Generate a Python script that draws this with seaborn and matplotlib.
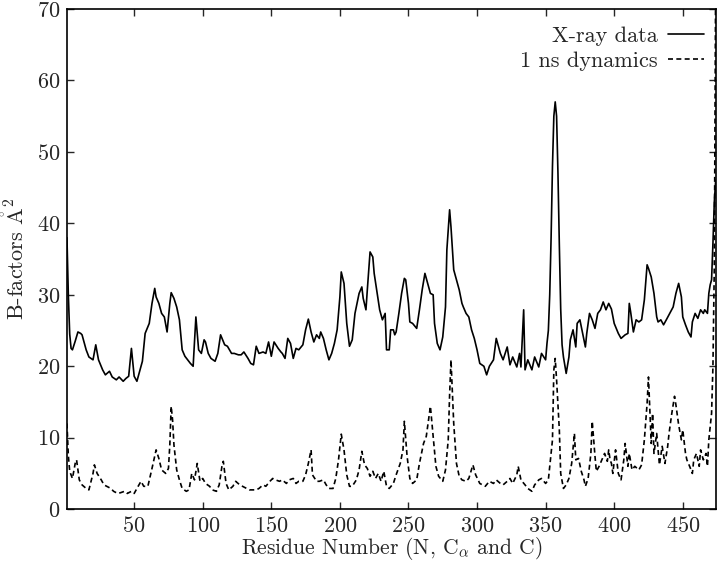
import matplotlib
matplotlib.use("Agg")
import matplotlib.pyplot as plt
import seaborn as sns
import pandas as pd

# X-ray B-factors (residue, value)
xray_res = [1, 2, 3, 4, 5, 7, 9, 11, 12, 15, 17, 20, 22, 24, 27, 29, 32, 34, 37, 39,
            42, 44, 46, 48, 50, 52, 54, 56, 58, 61, 63, 65, 66, 68, 70, 72, 74, 76, 77, 79,
            81, 83, 85, 87, 89, 91, 93, 95, 97, 99, 101, 102, 104, 106, 109, 111, 113, 116, 118, 121,
            123, 126, 128, 130, 133, 135, 137, 139, 141, 144, 146, 148, 150, 152, 155, 157, 158, 160, 162, 164,
            166, 168, 170, 173, 175, 177, 179, 181, 183, 185, 186, 188, 190, 192, 194, 196, 198, 200, 201, 203,
            205, 207, 209, 211, 214, 216, 217, 219, 220, 222, 224, 225, 227, 229, 231, 233, 234, 236, 237, 239,
            240, 241, 243, 245, 247, 248, 250, 251, 253, 256, 258, 260, 262, 264, 266, 268, 269, 271, 273, 275,
            277, 278, 280, 281, 283, 285, 287, 289, 290, 292, 294, 296, 298, 300, 302, 305, 307, 309, 312, 314,
            317, 319, 322, 324, 326, 329, 331, 332, 334, 335, 337, 340, 342, 345, 347, 350, 351, 352, 353, 354,
            355, 356, 357, 358, 359, 360, 361, 362, 363, 365, 367, 368, 370, 372, 373, 375, 377, 379, 380, 382,
            384, 386, 388, 390, 392, 394, 396, 398, 400, 403, 405, 408, 410, 411, 412, 414, 416, 418, 420, 422,
            424, 425, 427, 429, 431, 432, 434, 436, 438, 441, 443, 445, 447, 449, 450, 452, 454, 456, 457, 459,
            461, 463, 465, 466, 468, 469, 470, 471, 472, 473, 474]
xray_b = [38.0, 30.0, 24.5, 22.5, 22.3, 23.5, 24.8, 24.6, 24.4, 22.3, 21.3, 20.9, 23.0, 20.9, 19.5, 18.8, 19.3, 18.5, 18.1, 18.5,
          17.9, 18.3, 18.6, 22.5, 18.6, 17.9, 19.3, 20.7, 24.6, 26.0, 28.8, 30.9, 29.7, 28.8, 27.4, 26.9, 24.8, 28.8, 30.3, 29.5,
          28.3, 26.5, 22.3, 21.4, 20.9, 20.4, 20.0, 26.9, 22.3, 21.8, 23.7, 23.4, 21.8, 21.1, 20.7, 21.8, 24.4, 23.0, 22.8, 21.8,
          21.8, 21.6, 21.6, 22.0, 21.1, 20.4, 20.2, 22.8, 21.8, 22.0, 21.8, 23.4, 21.4, 23.4, 22.5, 22.0, 21.8, 21.1, 23.9, 23.2,
          21.1, 22.5, 22.3, 23.0, 25.1, 26.6, 24.8, 23.4, 24.4, 23.9, 24.8, 23.9, 22.3, 20.9, 21.8, 23.2, 25.1, 29.7, 33.2, 31.6,
          26.0, 22.8, 23.7, 27.4, 30.2, 31.1, 29.5, 27.9, 30.7, 36.0, 35.3, 33.0, 30.4, 27.9, 26.5, 27.4, 22.3, 22.3, 25.1, 25.1,
          24.4, 24.8, 27.4, 30.2, 32.3, 32.1, 28.8, 26.2, 26.0, 25.3, 27.9, 30.7, 33.0, 31.6, 30.2, 30.0, 26.0, 23.2, 22.3, 24.1,
          28.3, 36.3, 41.9, 39.5, 33.5, 32.1, 30.7, 28.8, 28.3, 27.4, 26.9, 25.1, 23.9, 22.3, 20.4, 20.0, 18.8, 20.0, 20.9, 23.9,
          21.8, 20.9, 22.7, 20.2, 21.3, 19.9, 21.8, 19.9, 27.9, 19.5, 20.9, 19.5, 21.3, 19.9, 21.8, 20.9, 23.2, 25.0, 30.0, 38.0,
          48.0, 55.0, 57.0, 55.0, 47.0, 37.0, 28.0, 23.0, 21.3, 19.0, 21.3, 23.7, 25.1, 22.7, 26.0, 26.5, 24.6, 22.7, 24.6, 27.4,
          26.5, 25.3, 27.4, 27.9, 29.0, 27.9, 28.8, 28.0, 26.0, 24.6, 23.9, 24.4, 24.6, 28.8, 27.6, 24.8, 26.5, 26.2, 26.5, 29.3,
          34.2, 33.7, 32.5, 30.2, 26.9, 26.2, 26.5, 25.8, 26.5, 27.6, 28.3, 30.2, 31.6, 29.7, 26.9, 25.8, 24.8, 24.1, 26.2, 27.4,
          26.7, 27.9, 27.4, 27.9, 27.4, 30.2, 31.4, 32.1, 37.2, 43.0, 46.0]

# 1 ns dynamics B-factors
md_res = [1, 2, 3, 5, 7, 8, 10, 12, 15, 17, 20, 21, 23, 26, 28, 30, 33, 35, 38, 40,
          43, 45, 48, 50, 52, 55, 57, 60, 63, 66, 68, 70, 73, 75, 76, 77, 78, 79, 81, 83,
          85, 88, 90, 92, 94, 96, 98, 100, 102, 105, 107, 110, 112, 114, 115, 117, 119, 122, 124, 127,
          129, 132, 134, 136, 139, 141, 144, 146, 149, 151, 153, 156, 158, 161, 163, 166, 168, 170, 173, 175,
          177, 179, 180, 183, 185, 188, 190, 192, 195, 197, 199, 201, 203, 205, 207, 209, 212, 214, 216, 218,
          220, 222, 224, 226, 228, 230, 232, 234, 236, 239, 241, 244, 246, 247, 249, 251, 253, 256, 258, 261,
          263, 265, 266, 268, 270, 272, 275, 277, 279, 280, 281, 283, 285, 287, 289, 292, 294, 297, 299, 302,
          304, 306, 309, 312, 314, 317, 319, 322, 324, 326, 329, 330, 332, 335, 337, 340, 342, 345, 347, 350,
          352, 353, 355, 356, 357, 358, 360, 361, 363, 365, 367, 369, 371, 372, 374, 376, 378, 379, 381, 383,
          384, 386, 387, 389, 391, 393, 395, 396, 397, 398, 399, 401, 403, 405, 407, 408, 410, 411, 413, 415,
          418, 420, 422, 424, 425, 426, 427, 428, 429, 431, 432, 433, 435, 437, 439, 440, 442, 444, 445, 447,
          449, 450, 452, 453, 455, 457, 458, 460, 462, 463, 465, 467, 468, 469, 471, 472, 473, 474]
md_b = [12.0, 7.5, 5.3, 4.3, 6.4, 6.9, 4.1, 3.4, 2.9, 2.7, 5.0, 6.2, 5.0, 4.1, 3.4, 3.2, 2.9, 2.5, 2.2, 2.3,
        2.5, 2.2, 2.5, 2.2, 2.9, 3.9, 3.2, 3.2, 5.7, 8.3, 7.1, 5.5, 5.0, 5.7, 9.0, 14.4, 12.5, 9.0, 5.5, 4.1,
        2.9, 2.5, 2.7, 5.0, 4.1, 6.4, 3.9, 4.3, 3.6, 3.2, 2.7, 2.5, 3.4, 6.0, 6.7, 3.6, 2.7, 3.2, 3.9, 3.4,
        3.2, 2.9, 2.7, 2.7, 2.7, 2.9, 3.4, 3.2, 3.9, 4.3, 4.1, 3.9, 4.1, 3.6, 4.1, 4.3, 3.6, 3.9, 3.9, 4.8,
        6.4, 8.3, 4.8, 3.9, 3.9, 4.1, 3.4, 2.9, 2.9, 4.3, 6.9, 10.5, 8.3, 4.8, 3.2, 3.2, 4.1, 5.5, 8.1, 6.2,
        5.7, 4.6, 5.3, 4.3, 5.0, 3.9, 5.3, 3.2, 2.9, 3.6, 4.8, 6.4, 8.3, 12.3, 7.4, 4.3, 3.6, 4.1, 6.4, 9.2,
        10.2, 13.0, 14.4, 10.2, 6.0, 4.6, 3.9, 5.5, 9.7, 16.0, 20.9, 12.0, 6.4, 4.6, 4.1, 3.9, 4.3, 6.2, 4.8, 3.6,
        3.4, 3.2, 3.9, 3.6, 4.1, 3.6, 3.4, 3.9, 4.3, 3.6, 4.8, 6.0, 4.1, 3.4, 2.9, 2.5, 3.4, 4.1, 4.3, 3.6,
        4.1, 6.0, 9.7, 19.5, 21.1, 18.1, 11.1, 5.0, 2.9, 3.4, 4.3, 6.4, 10.6, 6.9, 7.1, 5.3, 4.1, 3.2, 4.3, 7.8,
        12.3, 7.4, 5.3, 6.0, 6.9, 7.8, 6.7, 8.3, 6.9, 6.4, 5.0, 8.3, 5.0, 4.1, 6.9, 9.2, 6.0, 7.8, 5.5, 6.0,
        5.5, 6.2, 9.7, 14.8, 18.5, 13.9, 9.2, 13.4, 7.8, 10.6, 8.3, 6.2, 8.8, 6.4, 8.8, 10.6, 13.4, 15.8, 14.6, 11.8,
        9.7, 11.1, 7.8, 6.9, 6.0, 5.0, 6.9, 7.8, 6.0, 8.3, 6.9, 7.8, 6.0, 9.7, 13.4, 20.0, 34.0, 75.0]

x_ticks = [50, 100, 150, 200, 250, 300, 350, 400, 450]
y_ticks = [0, 10, 20, 30, 40, 50, 60, 70]

sns.set_style("ticks")
plt.rcParams["font.family"] = ["cmr10", "DejaVu Serif"]
plt.rcParams["mathtext.fontset"] = "cm"
plt.rcParams["axes.formatter.use_mathtext"] = True
plt.rcParams["axes.unicode_minus"] = False

df_xray = pd.DataFrame({"res": xray_res, "b": xray_b})
df_md = pd.DataFrame({"res": md_res, "b": md_b})

fig = plt.figure(figsize=(7.2, 5.62), dpi=100)
ax = fig.add_axes([0.093, 0.094, 0.901, 0.89])

sns.lineplot(data=df_xray, x="res", y="b", color="black", linewidth=1.2,
             label="X-ray data", ax=ax)
sns.lineplot(data=df_md, x="res", y="b", color="black", linewidth=1.2,
             linestyle=(0, (3, 2)), label="1 ns dynamics", ax=ax)

ax.set_xlim(1, 474)
ax.set_ylim(0, 70)
ax.set_xticks(x_ticks)
ax.set_yticks(y_ticks)
ax.tick_params(direction="in", length=5, width=1, top=True, right=True,
               labelsize=16, pad=5)
for sp in ax.spines.values():
    sp.set_linewidth(1.2)
    sp.set_color("black")

ax.set_xlabel(r"Residue Number (N, C$_\alpha$ and C)", fontsize=15.5, labelpad=-1)
ax.set_ylabel(r"B-factors $\mathring{\mathrm{A}}^2$", fontsize=16, labelpad=6)

ax.legend(loc="upper right", bbox_to_anchor=(0.982, 0.966), frameon=False,
          markerfirst=False, fontsize=16, handlelength=1.6, handletextpad=0.5,
          borderaxespad=0, borderpad=0, labelspacing=0.25)

fig.savefig("out.png", dpi=100)
